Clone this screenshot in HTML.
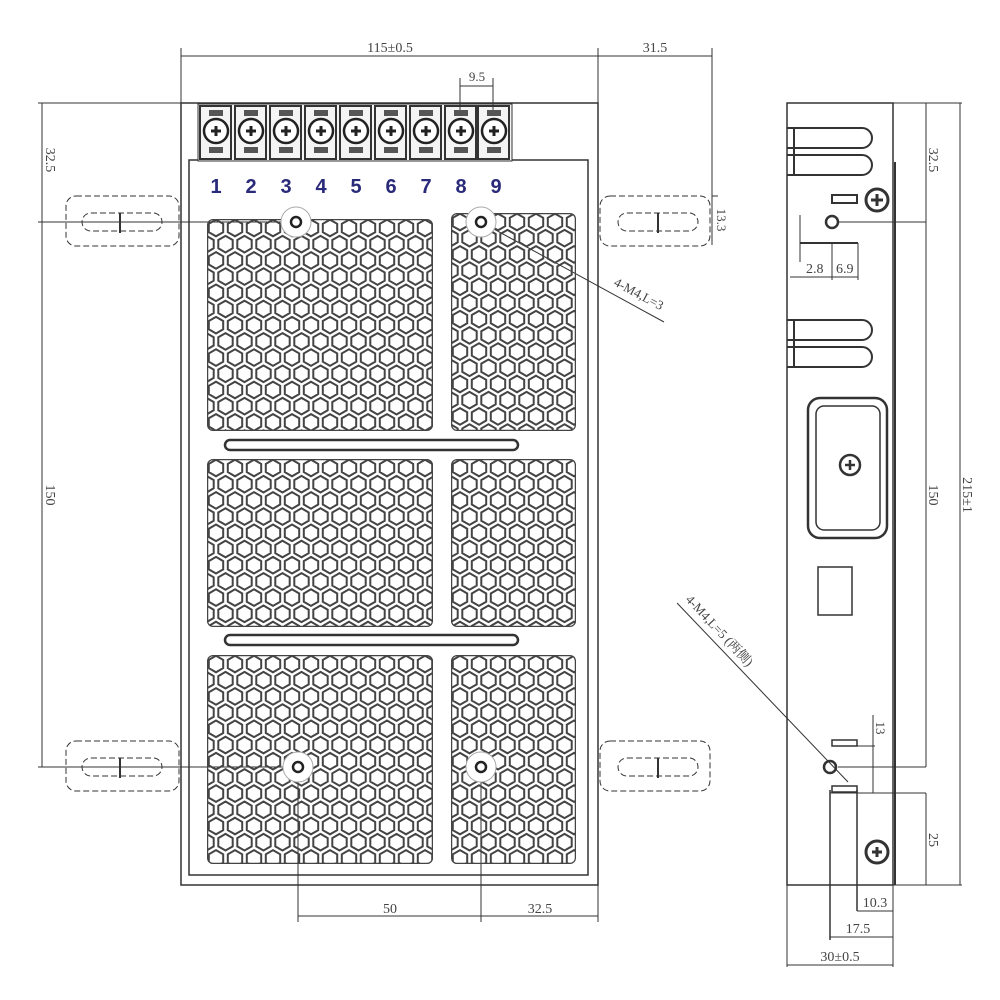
<!DOCTYPE html>
<html><head><meta charset="utf-8"><style>
html,body{margin:0;padding:0;background:#fff;width:1000px;height:1000px;overflow:hidden}
svg{display:block}
text{font-family:"Liberation Serif","Noto Serif CJK SC",serif;fill:#444}
</style></head><body>
<svg id="s" width="1000" height="1000" viewBox="0 0 1000 1000" xmlns="http://www.w3.org/2000/svg">
<defs>
<clipPath id="c1"><rect x="207" y="219" width="226" height="212" rx="6"/></clipPath>
<clipPath id="c2"><rect x="451" y="213" width="125" height="218" rx="6"/></clipPath>
<clipPath id="c3"><rect x="207" y="459" width="226" height="168" rx="6"/></clipPath>
<clipPath id="c4"><rect x="451" y="459" width="125" height="168" rx="6"/></clipPath>
<clipPath id="c5"><rect x="207" y="655" width="226" height="209" rx="6"/></clipPath>
<clipPath id="c6"><rect x="451" y="655" width="125" height="209" rx="6"/></clipPath>
</defs>
<g fill="none" stroke="#333" stroke-width="1">
<rect x="181" y="103" width="417" height="782" stroke-width="1.5"/>
<rect x="189" y="160" width="399" height="715" stroke-width="1.5"/>
<rect x="198" y="104" width="314" height="57" fill="#f4f4f4"/>
<line x1="181" y1="48" x2="181" y2="103"/><line x1="598" y1="48" x2="598" y2="103"/>
<line x1="181" y1="56" x2="598" y2="56"/>
<line x1="712" y1="48" x2="712" y2="245"/><line x1="598" y1="56" x2="712" y2="56"/>
<line x1="460" y1="78" x2="460" y2="110"/><line x1="493" y1="78" x2="493" y2="110"/>
<line x1="460" y1="86" x2="493" y2="86"/>
<line x1="42" y1="103" x2="42" y2="767"/>
<line x1="38" y1="103" x2="181" y2="103"/>
<line x1="38" y1="222" x2="292" y2="222"/>
<line x1="38" y1="767" x2="292" y2="767"/>
<g stroke-dasharray="6,3">
<rect x="66" y="196" width="113" height="50" rx="10"/>
<rect x="82" y="213" width="80" height="18" rx="9"/>
<rect x="66" y="741" width="113" height="50" rx="10"/>
<rect x="82" y="758" width="80" height="18" rx="9"/>
<rect x="600" y="196" width="110" height="50" rx="10"/>
<rect x="618" y="213" width="80" height="18" rx="9"/>
<rect x="600" y="741" width="110" height="50" rx="10"/>
<rect x="618" y="758" width="80" height="18" rx="9"/>
</g>
<line x1="120" y1="213" x2="120" y2="233" stroke-width="2"/>
<line x1="120" y1="758" x2="120" y2="778" stroke-width="2"/>
<line x1="658" y1="213" x2="658" y2="233" stroke-width="2"/>
<line x1="658" y1="758" x2="658" y2="778" stroke-width="2"/>
<line x1="712" y1="196" x2="718" y2="196"/>
<line x1="298" y1="767" x2="298" y2="922"/><line x1="481" y1="767" x2="481" y2="922"/>
<line x1="598" y1="885" x2="598" y2="922"/>
<line x1="298" y1="916" x2="598" y2="916"/>
<rect x="225" y="440" width="293" height="10" rx="5" stroke-width="2.5"/>
<rect x="225" y="635" width="293" height="10" rx="5" stroke-width="2.5"/>
<line x1="481" y1="222" x2="664" y2="322"/>
<rect x="787" y="103" width="106" height="782" stroke-width="1.5"/>
<line x1="895" y1="162" x2="895" y2="885" stroke-width="2"/>
<line x1="893" y1="103" x2="962" y2="103"/>
<line x1="926" y1="103" x2="926" y2="767"/>
<line x1="960" y1="103" x2="960" y2="885"/>
<line x1="893" y1="885" x2="962" y2="885"/>
<line x1="926" y1="793" x2="926" y2="885"/>
<line x1="838" y1="222" x2="926" y2="222"/>
<line x1="838" y1="767" x2="926" y2="767"/>
<g stroke-width="2">
<path d="M787 128 H862 a10 10 0 0 1 0 20 H787"/>
<path d="M787 155 H862 a10 10 0 0 1 0 20 H787"/>
<path d="M787 320 H862 a10 10 0 0 1 0 20 H787"/>
<path d="M787 347 H862 a10 10 0 0 1 0 20 H787"/>
<line x1="794" y1="128" x2="794" y2="175"/><line x1="794" y1="320" x2="794" y2="367"/>
</g>
<rect x="832" y="195" width="25" height="8" stroke-width="2"/>
<circle cx="877" cy="200" r="11" stroke-width="3"/>
<path d="M871 200h12M877 194v12" stroke-width="3"/>
<circle cx="832" cy="222" r="6" stroke-width="2.5"/>
<line x1="800" y1="215" x2="800" y2="262"/>
<line x1="800" y1="243" x2="858" y2="243" stroke-width="2"/>
<line x1="832" y1="243" x2="832" y2="280"/>
<line x1="858" y1="243" x2="858" y2="280"/>
<line x1="790" y1="277" x2="858" y2="277"/>
<rect x="808" y="398" width="79" height="140" rx="12" stroke-width="2.5"/>
<rect x="816" y="406" width="64" height="124" rx="8" stroke-width="1.5"/>
<circle cx="850" cy="465" r="10" stroke-width="2.5"/>
<path d="M845 465h10M850 460v10" stroke-width="2.5"/>
<rect x="818" y="567" width="34" height="48" stroke-width="1.5"/>
<rect x="832" y="740" width="25" height="6" stroke-width="1.5"/>
<line x1="857" y1="746" x2="875" y2="746"/>
<line x1="873" y1="715" x2="873" y2="793"/>
<circle cx="830" cy="767" r="6" stroke-width="2.5"/>
<rect x="832" y="786" width="25" height="6" stroke-width="1.5"/>
<line x1="830" y1="790" x2="830" y2="940" stroke-width="1.5"/>
<line x1="857" y1="790" x2="857" y2="911" stroke-width="1.5"/>
<line x1="830" y1="793" x2="926" y2="793"/>
<line x1="893" y1="885" x2="893" y2="967"/>
<line x1="787" y1="885" x2="787" y2="967"/>
<line x1="857" y1="911" x2="893" y2="911"/>
<line x1="830" y1="937" x2="893" y2="937"/>
<line x1="787" y1="965" x2="893" y2="965"/>
<circle cx="877" cy="852" r="11" stroke-width="3"/>
<path d="M872 852h10M877 847v10" stroke-width="3"/>
<line x1="677" y1="603" x2="848" y2="782"/>
</g>
<g id="hex" fill="none" stroke="#444" stroke-width="2"></g>
<g id="term"></g>
<g fill="#fff" stroke="#aaa" stroke-width="1">
<circle cx="296" cy="222" r="15"/><circle cx="481" cy="222" r="15"/>
<circle cx="298" cy="767" r="15"/><circle cx="481" cy="767" r="15"/>
</g>
<g fill="none" stroke="#222" stroke-width="2.5">
<circle cx="296" cy="222" r="5"/><circle cx="481" cy="222" r="5"/>
<circle cx="298" cy="767" r="5"/><circle cx="481" cy="767" r="5"/>
</g>
<text x="390" y="52" font-size="14" text-anchor="middle">115±0.5</text>
<text x="655" y="52" font-size="14" text-anchor="middle">31.5</text>
<text x="477" y="81" font-size="13" text-anchor="middle">9.5</text>
<text x="390" y="913" font-size="14" text-anchor="middle">50</text>
<text x="540" y="913" font-size="14" text-anchor="middle">32.5</text>
<text transform="translate(46,160) rotate(90)" font-size="14" text-anchor="middle">32.5</text>
<text transform="translate(46,495) rotate(90)" font-size="14" text-anchor="middle">150</text>
<text transform="translate(717,220) rotate(90)" font-size="13" text-anchor="middle">13.3</text>
<text transform="translate(613,285) rotate(28)" font-size="13">4-M4,L=3</text>
<text transform="translate(685,600) rotate(47)" font-size="13">4-M4,L=5 (两侧)</text>
<text transform="translate(929,160) rotate(90)" font-size="14" text-anchor="middle">32.5</text>
<text transform="translate(929,495) rotate(90)" font-size="14" text-anchor="middle">150</text>
<text transform="translate(963,495) rotate(90)" font-size="14" text-anchor="middle">215±1</text>
<text transform="translate(929,840) rotate(90)" font-size="14" text-anchor="middle">25</text>
<text transform="translate(876,728) rotate(90)" font-size="13" text-anchor="middle">13</text>
<text x="806" y="273" font-size="14">2.8</text><text x="836" y="273" font-size="14">6.9</text>
<text x="875" y="907" font-size="14" text-anchor="middle">10.3</text>
<text x="858" y="933" font-size="14" text-anchor="middle">17.5</text>
<text x="840" y="961" font-size="14" text-anchor="middle">30±0.5</text>
<g font-weight="bold" font-size="20" text-anchor="middle">
<text x="216" y="193" style="fill:#2a2a7a;font-family:'Liberation Sans',sans-serif">1</text>
<text x="251" y="193" style="fill:#2a2a7a;font-family:'Liberation Sans',sans-serif">2</text>
<text x="286" y="193" style="fill:#2a2a7a;font-family:'Liberation Sans',sans-serif">3</text>
<text x="321" y="193" style="fill:#2a2a7a;font-family:'Liberation Sans',sans-serif">4</text>
<text x="356" y="193" style="fill:#2a2a7a;font-family:'Liberation Sans',sans-serif">5</text>
<text x="391" y="193" style="fill:#2a2a7a;font-family:'Liberation Sans',sans-serif">6</text>
<text x="426" y="193" style="fill:#2a2a7a;font-family:'Liberation Sans',sans-serif">7</text>
<text x="461" y="193" style="fill:#2a2a7a;font-family:'Liberation Sans',sans-serif">8</text>
<text x="496" y="193" style="fill:#2a2a7a;font-family:'Liberation Sans',sans-serif">9</text>
</g>
</svg>
<script>
var NS="http://www.w3.org/2000/svg";
var hg=document.getElementById("hex");
var panels=[["c1",207,219,433,431],["c2",451,213,576,431],["c3",207,459,433,627],["c4",451,459,576,627],["c5",207,655,433,864],["c6",451,655,576,864]];
function hexPath(cx,cy,r){var d="";for(var i=0;i<6;i++){var a=Math.PI/180*(60*i-90);d+=(i?"L":"M")+(cx+r*Math.cos(a)).toFixed(1)+" "+(cy+r*Math.sin(a)).toFixed(1);}return d+"Z";}
panels.forEach(function(p){
 var g=document.createElementNS(NS,"g");g.setAttribute("clip-path","url(#"+p[0]+")");
 var d="";var dx=19,dy=16.2,r=8.3;
 var row=0;
 for(var y=p[2]+9;y<p[4]+10;y+=dy,row++){
  var off=(row%2)?dx/2:0;
  for(var x=p[1]+9+off-dx;x<p[3]+10;x+=dx){d+=hexPath(x,y,r);}
 }
 var path=document.createElementNS(NS,"path");path.setAttribute("d",d);g.appendChild(path);
 var rc=document.createElementNS(NS,"rect");rc.setAttribute("x",p[1]);rc.setAttribute("y",p[2]);rc.setAttribute("width",p[3]-p[1]);rc.setAttribute("height",p[4]-p[2]);rc.setAttribute("rx",6);rc.setAttribute("stroke-width","2.5");
 g.appendChild(rc);hg.appendChild(g);
});
var tg=document.getElementById("term");var s="";
var cs=[216,251,286,321,356,391,426,461,494];
cs.forEach(function(c){
 s+='<rect x="'+(c-16)+'" y="106" width="31" height="53" fill="none" stroke="#333" stroke-width="2"/>';
 s+='<rect x="'+(c-7)+'" y="110" width="14" height="6" fill="#555"/>';
 s+='<rect x="'+(c-7)+'" y="147" width="14" height="6" fill="#555"/>';
 s+='<circle cx="'+c+'" cy="131" r="12" fill="#fff" stroke="#222" stroke-width="2.5"/>';
 s+='<path d="M'+(c-5)+' 131h10M'+c+' 126v10" stroke="#222" stroke-width="3"/>';
});
tg.innerHTML=s;
</script>
</body></html>
